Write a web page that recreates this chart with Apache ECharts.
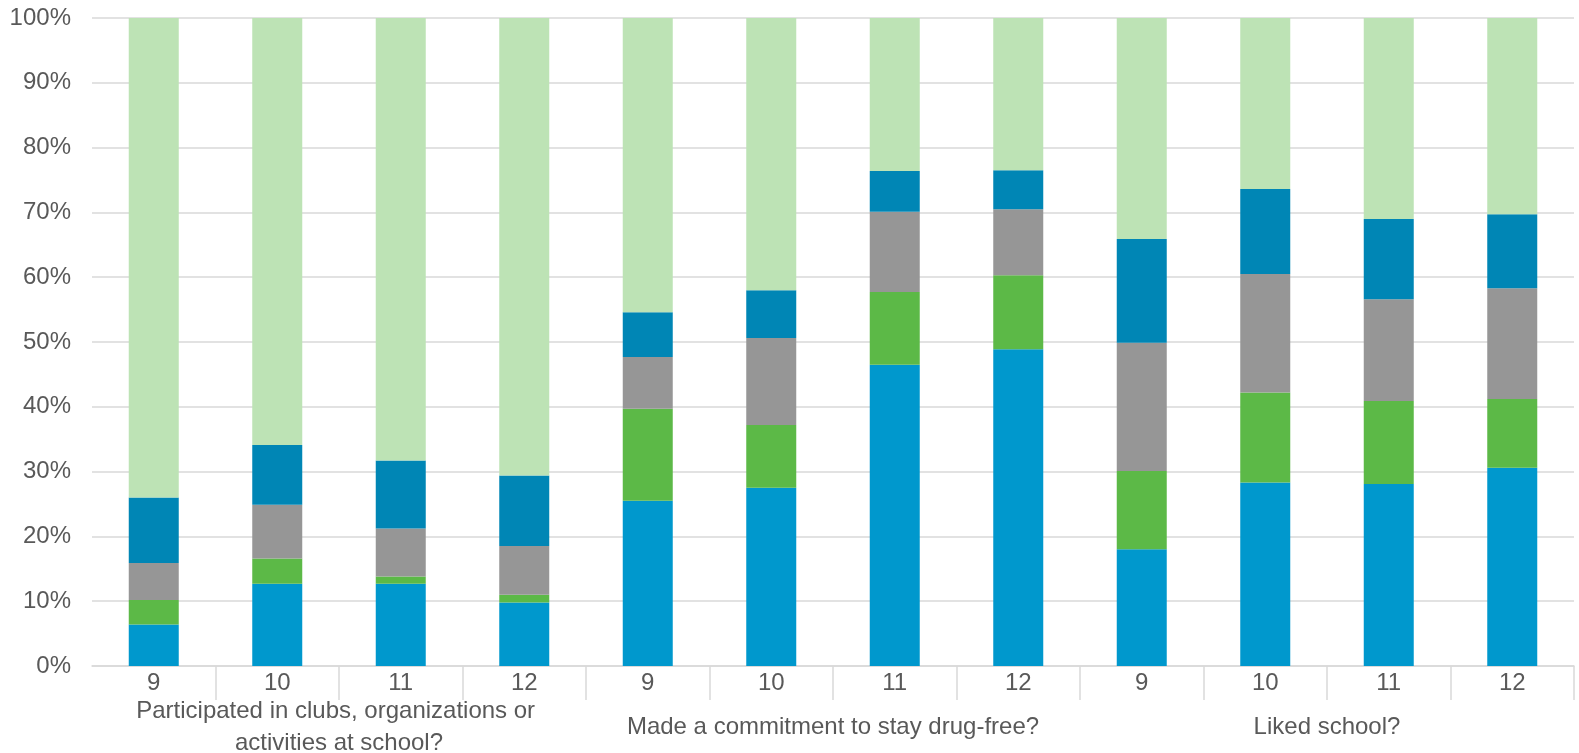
<!DOCTYPE html>
<html>
<head>
<meta charset="utf-8">
<script src="https://cdn.jsdelivr.net/npm/echarts@6/dist/echarts.min.js"></script>
<style>
  html, body { margin: 0; padding: 0; background: #ffffff; }
  #chart { width: 1579px; height: 753px; }
</style>
</head>
<body>
<div id="chart"></div>
<script>
// Categories (grade) and groups (questions)
const grades = ['9', '10', '11', '12', '9', '10', '11', '12', '9', '10', '11', '12'];
const groups = [
  'Participated in clubs, organizations or activities at school?',
  'Made a commitment to stay drug-free?',
  'Liked school?'
];
const yTicks = [0, 10, 20, 30, 40, 50, 60, 70, 80, 90, 100];

// Stacked segments (percent), bottom to top
const seriesBlue      = [6.4, 12.7, 12.7, 9.8, 25.5, 27.5, 46.5, 48.9, 18.0, 28.3, 28.1, 30.6];
const seriesGreen     = [3.8, 3.9, 1.1, 1.2, 14.2, 9.7, 11.2, 11.4, 12.1, 13.9, 12.8, 10.6];
const seriesGray      = [5.7, 8.3, 7.4, 7.5, 8.0, 13.4, 12.4, 10.2, 19.8, 18.3, 15.7, 17.1];
const seriesDarkBlue  = [10.1, 9.2, 10.5, 10.9, 6.9, 7.4, 6.3, 6.0, 16.0, 13.1, 12.4, 11.4];
const seriesLightGreen= [74.0, 65.9, 68.3, 70.6, 45.4, 42.0, 23.6, 23.5, 34.1, 26.4, 31.0, 30.3];

const colors = ['#0098CD', '#5CB947', '#969696', '#0086B5', '#BDE3B5'];
const seriesData = [seriesBlue, seriesGreen, seriesGray, seriesDarkBlue, seriesLightGreen];

const textColor = '#595959';
const lineColor = '#D9D9D9';
const fontFamily = '"Liberation Sans", Arial, sans-serif';

const chart = echarts.init(document.getElementById('chart'), null, { renderer: 'canvas' });
chart.setOption({
  animation: false,
  backgroundColor: '#ffffff',
  grid: { left: 92, right: 5, top: 18, bottom: 87, containLabel: false, outerBoundsMode: 'none' },
  xAxis: [
    {
      type: 'category',
      data: grades,
      boundaryGap: true,
      axisLine: { show: true, lineStyle: { color: lineColor, width: 1.5 } },
      axisTick: {
        show: true,
        length: 34,
        interval: function (i) { return i !== 0; },
        lineStyle: { color: lineColor, width: 1.5 }
      },
      axisLabel: {
        interval: 0,
        margin: 5,
        color: textColor,
        fontSize: 24,
        fontFamily: fontFamily
      },
      splitLine: { show: false }
    },
    {
      type: 'category',
      data: groups,
      position: 'bottom',
      boundaryGap: true,
      axisLine: { show: false },
      axisTick: { show: false },
      axisLabel: {
        interval: 0,
        margin: 61,
        verticalAlign: 'middle',
        color: textColor,
        fontSize: 24,
        lineHeight: 32,
        width: 450,
        overflow: 'break',
        fontFamily: fontFamily
      },
      splitLine: { show: false }
    }
  ],
  yAxis: {
    type: 'value',
    min: yTicks[0],
    max: yTicks[yTicks.length - 1],
    interval: 10,
    axisLine: { show: false },
    axisTick: { show: false },
    axisLabel: {
      margin: 21,
      color: textColor,
      fontSize: 24,
      fontFamily: fontFamily,
      formatter: '{value}%'
    },
    splitLine: { show: true, lineStyle: { color: lineColor, width: 1.5 } }
  },
  series: seriesData.map(function (d, i) {
    return {
      type: 'bar',
      stack: 'total',
      xAxisIndex: 0,
      barWidth: 50,
      data: d,
      itemStyle: { color: colors[i] },
      emphasis: { disabled: true }
    };
  })
});
</script>
</body>
</html>
